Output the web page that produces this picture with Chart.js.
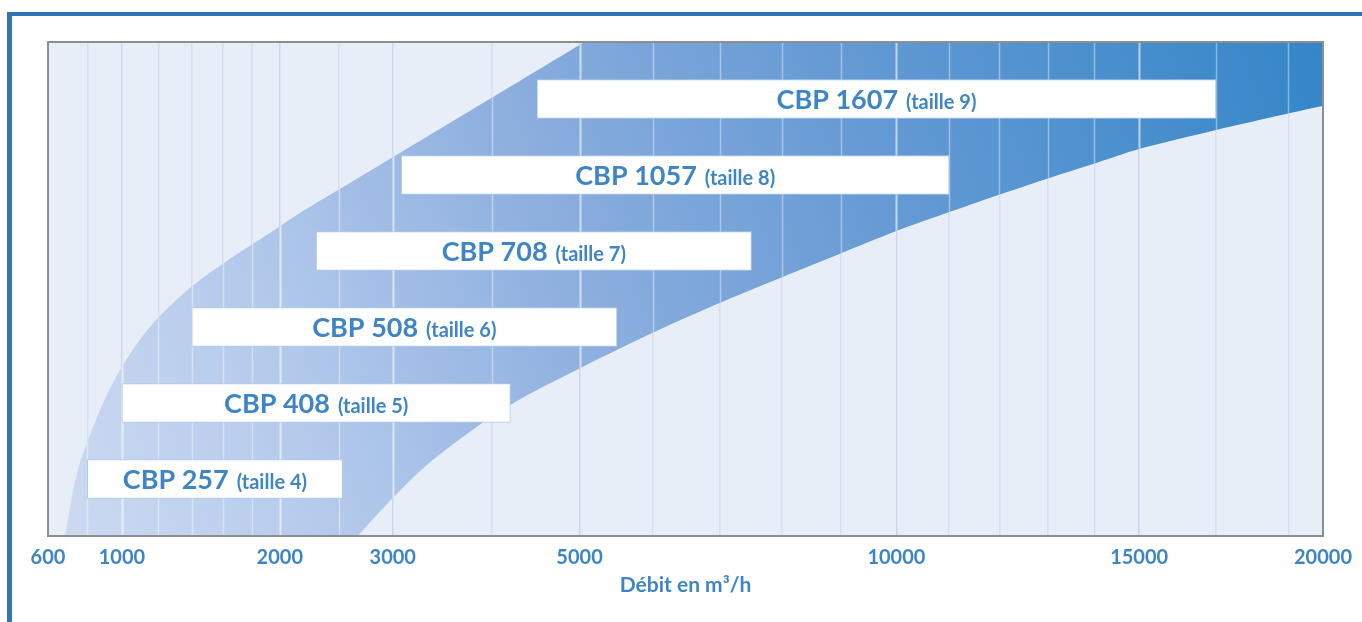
<!DOCTYPE html>
<html lang="fr">
<head>
<meta charset="utf-8">
<title>Gamme CBP – Débit en m³/h</title>
<script src="https://cdn.jsdelivr.net/npm/chart.js@4.4.1/dist/chart.umd.min.js"></script>
<style>
  html, body { margin: 0; padding: 0; background: #ffffff; }
  #wrap { position: relative; width: 1362px; height: 622px; overflow: hidden; background: #ffffff; }
  #frame { position: absolute; left: 7px; top: 12px; width: 1420px; height: 700px;
           border-top: 4px solid #2f74b7; border-left: 5px solid #2f74b7; box-sizing: border-box; }
  #chart { position: absolute; left: 0; top: 0; }
</style>
</head>
<body>
<div id="wrap">
  <div id="frame"></div>
  <canvas id="chart" width="1362" height="622"></canvas>
</div>
<script>
// Models and the flow range (m³/h) each one covers
const models = ['CBP 257', 'CBP 408', 'CBP 508', 'CBP 708', 'CBP 1057', 'CBP 1607'];
const sizes  = ['(taille 4)', '(taille 5)', '(taille 6)', '(taille 7)', '(taille 8)', '(taille 9)'];
const flowMin = [800, 1000, 1400, 2300, 3080, 4500];
const flowMax = [2530, 4200, 5500, 7500, 11000, 17000];

// Axis ticks: labelled values and the extra grid values between them
const tickLabels = [600, 1000, 2000, 3000, 5000, 10000, 15000, 20000];
const gridValues = [800, 1200, 1400, 1600, 1800, 2500, 4000, 6000, 7000, 8000, 9000,
                    11000, 12000, 13000, 14000, 17000, 19000];

// Share of the axis length reached at each labelled tick (axis is drawn on a square-root-like ruler)
const tickShares = [0, 0.058, 0.1818, 0.2704, 0.4169, 0.6654, 0.8558, 1];

// Operating zone outline: upper (left) limit, then lower (right) limit, flow vs. row.
// The first points past the plot edges only carry the outline out of view.
const upperFlow = [683, 745, 854, 988, 1152, 1388, 1646, 1927, 2162, 2596, 3066, 3556, 4082, 4645, 5065, 5399];
const upperRow  = [-0.75, 0.079, 0.816, 1.434, 2.0, 2.513, 2.895, 3.237, 3.5, 3.895, 4.289, 4.684, 5.079, 5.474, 5.75, 5.95];
const lowerFlow = [21063, 21063, 20000, 18937, 17004, 15000, 14042, 13030, 12098, 11063, 10000, 8974, 8005,
                   7107, 6057, 5039, 4159, 3385, 3019, 2669];
const lowerRow  = [6.05, 4.987, 4.908, 4.803, 4.592, 4.342, 4.158, 3.961, 3.763, 3.526, 3.263, 2.961, 2.658,
                   2.355, 1.947, 1.474, 0.947, 0.25, -0.224, -0.75];

const rowMin = -0.75, rowMax = 5.75;
const flowAxisMin = 600, flowAxisMax = 20000;

const textBlue = '#3d85c6';
const fontFamily = 'Lato, "Open Sans", sans-serif';

// Flow axis: piecewise square-root ruler anchored on the labelled ticks
class FlowScale extends Chart.LinearScale {
  static id = 'flow';
  _share(v) {
    const vals = tickLabels, sh = tickShares;
    let i = 1;
    while (i < vals.length - 1 && v > vals[i]) i++;
    const s0 = Math.sqrt(vals[i - 1]), s1 = Math.sqrt(vals[i]);
    return sh[i - 1] + (Math.sqrt(Math.max(v, 0)) - s0) / (s1 - s0) * (sh[i] - sh[i - 1]);
  }
  getPixelForValue(value) {
    if (value === null || value === undefined || isNaN(value)) return NaN;
    return this.getPixelForDecimal(this._share(value));
  }
  getValueForPixel(pixel) {
    const d = this.getDecimalForPixel(pixel);
    const vals = tickLabels, sh = tickShares;
    let i = 1;
    while (i < sh.length - 1 && d > sh[i]) i++;
    const s0 = Math.sqrt(vals[i - 1]), s1 = Math.sqrt(vals[i]);
    const s = s0 + (d - sh[i - 1]) / (sh[i] - sh[i - 1]) * (s1 - s0);
    return s * s;
  }
  buildTicks() {
    this.start = this.min;
    this.end = this.max;
    return tickLabels.concat(gridValues).sort((a, b) => a - b).map(v => ({ value: v }));
  }
}
Chart.register(FlowScale);

const bars = models.map((m, i) => ({ x: [flowMin[i], flowMax[i]], y: i }));
const zone = upperFlow.map((f, i) => ({ x: f, y: upperRow[i] }))
  .concat(lowerFlow.map((f, i) => ({ x: f, y: lowerRow[i] })));

function zoneFill(ctx) {
  const chart = ctx.chart;
  const a = chart.chartArea;
  if (!a) return '#8fb3e0';
  const g = chart.ctx.createLinearGradient(a.left, a.bottom, a.right, a.top);
  g.addColorStop(0, '#cddbf1');
  g.addColorStop(0.2, '#b4caec');
  g.addColorStop(0.45, '#88acdd');
  g.addColorStop(0.65, '#679bd5');
  g.addColorStop(1, '#3486c8');
  return g;
}

// Plot background and frame
const plotFrame = {
  id: 'plotFrame',
  beforeDraw(chart) {
    const { ctx, chartArea: a } = chart;
    ctx.save();
    ctx.fillStyle = '#e8eef8';
    ctx.fillRect(a.left, a.top, a.width, a.height);
    ctx.restore();
  },
  afterDraw(chart) {
    const { ctx, chartArea: a } = chart;
    ctx.save();
    ctx.strokeStyle = '#8e8e8e';
    ctx.lineWidth = 2;
    ctx.strokeRect(a.left, a.top, a.width, a.height);
    ctx.restore();
  }
};

// Light grid lines drawn over the operating zone
const zoneGrid = {
  id: 'zoneGrid',
  afterDatasetDraw(chart, args) {
    if (args.meta.type !== 'line') return;
    const { ctx, chartArea: a } = chart;
    const line = args.meta.dataset;
    const xs = chart.scales.x;
    ctx.save();
    ctx.beginPath();
    ctx.rect(a.left, a.top, a.width, a.height);
    ctx.clip();
    ctx.beginPath();
    line.path(ctx);
    ctx.closePath();
    ctx.clip();
    xs.ticks.forEach((t, i) => {
      if (t.value <= flowAxisMin || t.value >= flowAxisMax) return;
      const major = tickLabels.includes(t.value);
      const x = Math.round(xs.getPixelForTick(i)) + 0.5;
      ctx.strokeStyle = major ? 'rgba(255,255,255,0.6)' : 'rgba(255,255,255,0.4)';
      ctx.lineWidth = major ? 2 : 1.5;
      ctx.beginPath();
      ctx.moveTo(x, a.top);
      ctx.lineTo(x, a.bottom);
      ctx.stroke();
    });
    ctx.restore();
  }
};

// Model name and size written inside each bar
const barLabels = {
  id: 'barLabels',
  afterDatasetsDraw(chart) {
    const meta = chart.getDatasetMeta(0);
    const ctx = chart.ctx;
    const bigFont = 'bold 27px ' + fontFamily;
    const smallFont = 'bold 20px ' + fontFamily;
    const gap = 8;
    ctx.save();
    ctx.fillStyle = textBlue;
    ctx.textBaseline = 'alphabetic';
    ctx.textAlign = 'left';
    meta.data.forEach((el, i) => {
      const cx = (el.x + el.base) / 2;
      ctx.font = bigFont;
      const w1 = ctx.measureText(models[i]).width;
      ctx.font = smallFont;
      const w2 = ctx.measureText(sizes[i]).width;
      const start = cx - (w1 + gap + w2) / 2;
      const base = el.y + 10;
      ctx.font = bigFont;
      ctx.fillText(models[i], start, base);
      ctx.font = smallFont;
      ctx.fillText(sizes[i], start + w1 + gap, base);
    });
    ctx.restore();
  }
};

new Chart(document.getElementById('chart'), {
  type: 'bar',
  data: {
    datasets: [
      {
        type: 'bar',
        data: bars,
        backgroundColor: '#ffffff',
        borderColor: '#b3cae7',
        borderWidth: 1,
        borderSkipped: false,
        barThickness: 39,
        order: 0
      },
      {
        type: 'line',
        data: zone,
        fill: 'shape',
        backgroundColor: zoneFill,
        borderWidth: 0,
        borderColor: 'rgba(0,0,0,0)',
        pointRadius: 0,
        tension: 0.3,
        capBezierPoints: false,
        order: 1
      }
    ]
  },
  options: {
    indexAxis: 'y',
    responsive: false,
    animation: false,
    layout: { padding: { left: 48, right: 38, top: 42, bottom: 0 } },
    plugins: { legend: { display: false }, tooltip: { enabled: false } },
    scales: {
      x: {
        type: 'flow',
        min: flowAxisMin,
        max: flowAxisMax,
        offset: false,
        afterFit(scale) { scale.height = 86; },
        border: { display: false },
        grid: {
          offset: false,
          drawTicks: false,
          color: ctx => (ctx.tick && tickLabels.includes(ctx.tick.value)) ? '#cdd7ea' : '#d7dfee',
          lineWidth: 1.5
        },
        ticks: {
          autoSkip: false,
          maxRotation: 0,
          padding: 10,
          color: textBlue,
          font: { family: fontFamily, size: 20, weight: 'bold' },
          callback: v => tickLabels.includes(v) ? String(v) : ''
        },
        title: {
          display: true,
          text: 'Débit en m³/h',
          color: textBlue,
          font: { family: fontFamily, size: 21, weight: 'bold' },
          padding: { top: 0, bottom: 24 }
        }
      },
      y: {
        type: 'linear',
        min: rowMin,
        max: rowMax,
        offset: false,
        grid: { offset: false, display: false },
        display: false
      }
    }
  },
  plugins: [plotFrame, zoneGrid, barLabels]
});
</script>
</body>
</html>
